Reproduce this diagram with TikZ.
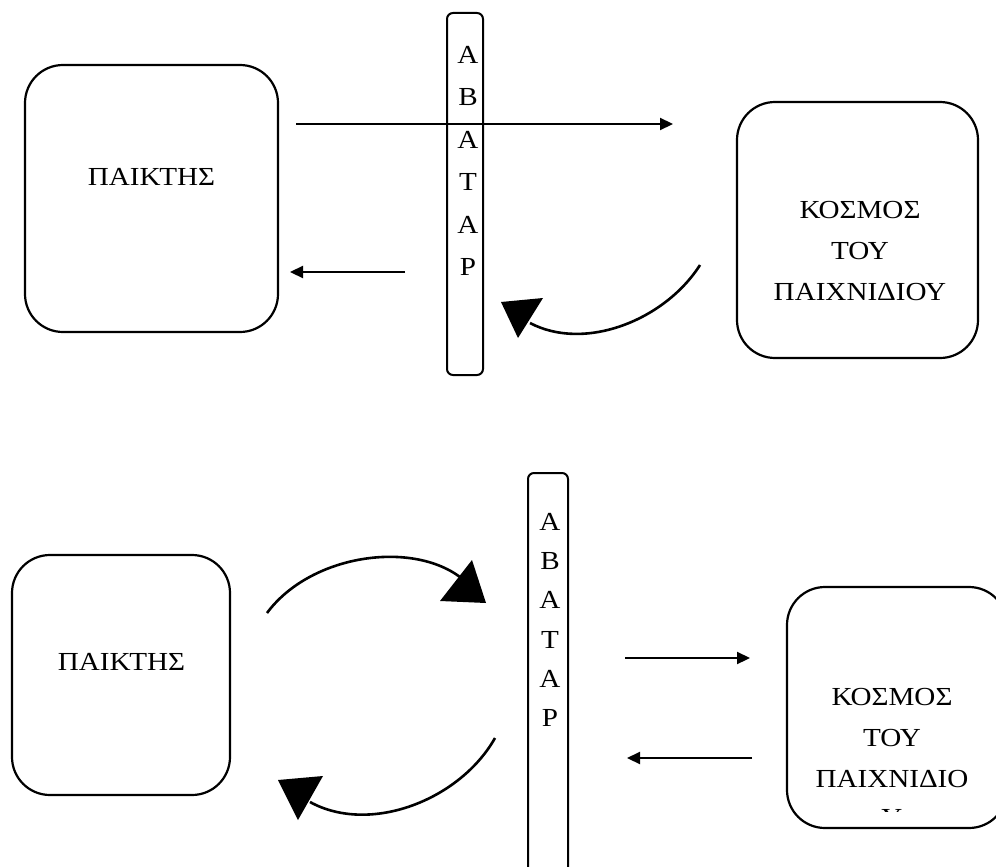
\documentclass[tikz,border=0pt]{standalone}
\usepackage{fontspec}
\setmainfont{Liberation Serif}[FakeStretch=1.12]
\usetikzlibrary{arrows.meta}

\begin{document}
\begin{tikzpicture}[x=1pt,y=-1pt,
  box/.style={draw, line width=2.2pt, rounded corners=38pt, inner sep=0pt},
  bar/.style={draw, line width=2pt, rounded corners=6pt, inner sep=0pt},
  caption/.style={font=\fontsize{26}{41}\selectfont, align=center, inner sep=0pt},
  letter/.style={font=\fontsize{26}{26}\selectfont, inner sep=0pt},
  link/.style={line width=2.2pt, -{Triangle[length=13pt,width=12pt]}},
  swing/.style={line width=2.6pt},
  head/.style={fill=black}
]
\useasboundingbox (0,0) rectangle (996,867);
\clip (0,0) rectangle (996,867);

% ---------- upper scheme ----------
\node[box, minimum width=253pt, minimum height=267pt] (playerA) at (151.5,198.5) {};
\node[caption] (playerAtext) at (151.5,177) {ΠΑΙΚΤΗΣ};

\node[box, minimum width=241pt, minimum height=256pt] (worldA) at (857.5,230) {};
\node[caption] (worldAtext) at (860,251) {ΚΟΣΜΟΣ\\ΤΟΥ\\ΠΑΙΧΝΙΔΙΟΥ};

\node[bar, minimum width=36pt, minimum height=362pt] (avatarA) at (465,194) {};
\foreach \ch [count=\i from 0] in {Α,Β,Α,Τ,Α,Ρ}
  \node[letter] (avA\i) at (468,55+42.4*\i) {\ch};

\coordinate (toWorldA) at (296,124);
\coordinate (atWorldA) at (673,124);
\draw[link] (toWorldA) -- (atWorldA);

\coordinate (fromAvA) at (405,272);
\coordinate (atPlayerA) at (290,272);
\draw[link] (fromAvA) -- (atPlayerA);

\coordinate (fromWorldA) at (700,265);
\coordinate (atAvA) at (530,323);
\draw[swing] (fromWorldA) .. controls (665,320) and (585,352) .. (atAvA);
\fill[head] (501,302) -- (543,298) -- (518,338) -- cycle;

% ---------- lower scheme ----------
\node[box, minimum width=218pt, minimum height=240pt] (playerB) at (121,675) {};
\node[caption] (playerBtext) at (121.5,662) {ΠΑΙΚΤΗΣ};

\node[box, minimum width=220pt, minimum height=241pt] (worldB) at (897,707.5) {};
\node[caption] (worldBtext) at (892,738) {ΚΟΣΜΟΣ\\ΤΟΥ\\ΠΑΙΧΝΙΔΙΟ};
% the last letter wraps below the frame; only its top shows
\begin{scope}
  \clip (860,802) rectangle (930,811);
  \node[letter] (worldBtail) at (892,818) {Υ};
\end{scope}

\node[bar, minimum width=40pt, minimum height=400pt] (avatarB) at (548,673) {};
\foreach \ch [count=\i from 0] in {Α,Β,Α,Τ,Α,Ρ}
  \node[letter] (avB\i) at (550,522+39.2*\i) {\ch};

\coordinate (toWorldB) at (625,658);
\coordinate (atWorldB) at (750,658);
\draw[link] (toWorldB) -- (atWorldB);

\coordinate (fromWorldB) at (752,758);
\coordinate (atAvB) at (627,758);
\draw[link] (fromWorldB) -- (atAvB);

\coordinate (fromPlayerB) at (267,613);
\coordinate (atAvBtop) at (460,577);
\draw[swing] (fromPlayerB) .. controls (310,555) and (410,540) .. (atAvBtop);
\fill[head] (472,560) -- (440,601) -- (486,603) -- cycle;

\coordinate (fromAvBlow) at (495,738);
\coordinate (atPlayerB) at (310,802);
\draw[swing] (fromAvBlow) .. controls (460,800) and (370,835) .. (atPlayerB);
\fill[head] (278,780) -- (323,776) -- (298,820) -- cycle;
\end{tikzpicture}
\end{document}
